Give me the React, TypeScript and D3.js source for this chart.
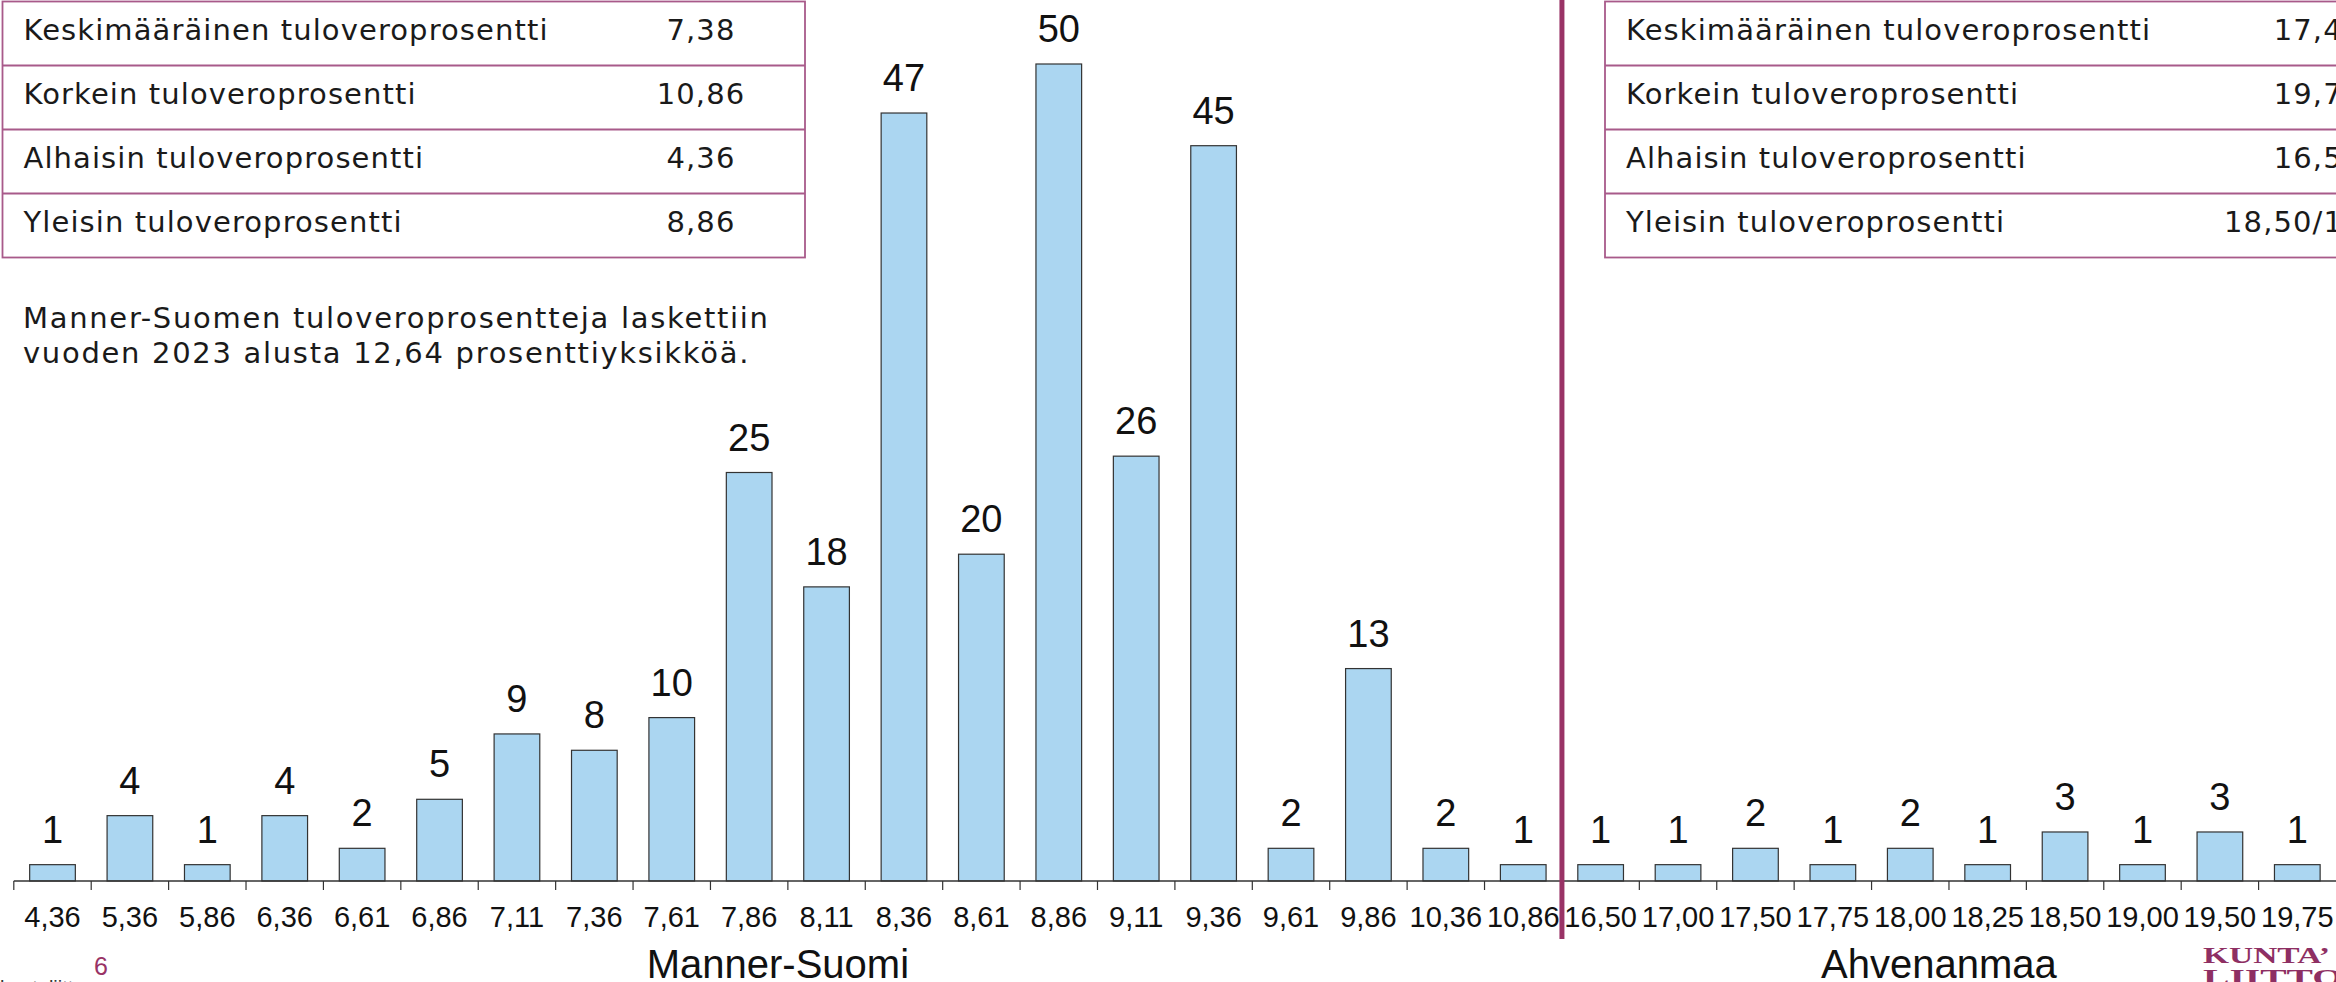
import * as React from 'react';
import * as d3 from 'd3';

// Manner-Suomi: tuloveroprosentti ja kuntien lukumäärä
const mannerRates = ['4,36', '5,36', '5,86', '6,36', '6,61', '6,86', '7,11', '7,36', '7,61', '7,86',
	'8,11', '8,36', '8,61', '8,86', '9,11', '9,36', '9,61', '9,86', '10,36', '10,86'];
const mannerCounts = [1, 4, 1, 4, 2, 5, 9, 8, 10, 25, 18, 47, 20, 50, 26, 45, 2, 13, 2, 1];

// Ahvenanmaa
const ahvenRates = ['16,50', '17,00', '17,50', '17,75', '18,00', '18,25', '18,50', '19,00', '19,50', '19,75'];
const ahvenCounts = [1, 1, 2, 1, 2, 1, 3, 1, 3, 1];

const groupNames = ['Manner-Suomi', 'Ahvenanmaa'];

const statLabels = [
	'Keskimääräinen tuloveroprosentti',
	'Korkein tuloveroprosentti',
	'Alhaisin tuloveroprosentti',
	'Yleisin tuloveroprosentti'
];
const mannerStats = ['7,38', '10,86', '4,36', '8,86'];
const ahvenStats = ['17,46', '19,75', '16,50', '18,50/19,50'];

const noteLines = [
	'Manner-Suomen tuloveroprosentteja laskettiin',
	'vuoden 2023 alusta 12,64 prosenttiyksikköä.'
];

const W = 2336;
const H = 982;
const MAGENTA = '#993366';
const BORDER = '#a85a8a';
const BAR_FILL = '#abd6f1';
const ARIAL = '"Liberation Sans", Arial, sans-serif';
const TABLE_FONT = '"DejaVu Sans", sans-serif';

export default function App() {
	const ref = React.useRef<SVGSVGElement>(null);

	React.useEffect(() => {
		const svg = d3.select(ref.current);
		svg.selectAll('*').remove();

		const rows = [
			...mannerRates.map((r, i) => ({ key: 'm' + i, rate: r, count: mannerCounts[i] })),
			...ahvenRates.map((r, i) => ({ key: 'a' + i, rate: r, count: ahvenCounts[i] }))
		];

		const baseY = 881;
		const x = d3.scaleBand().domain(rows.map((d) => d.key)).range([13.8, W]).padding(0);
		const y = d3.scaleLinear().domain([0, 50]).range([baseY, 64]);
		const barW = x.bandwidth() * 0.59;

		// stat tables
		const drawTable = (left: number, right: number, values: string[], valueX: number) => {
			const rowY = d3.scaleBand().domain(d3.range(statLabels.length).map(String)).range([1.5, 257.5]);
			const t = svg.append('g')
				.attr('font-family', TABLE_FONT)
				.attr('font-size', 29)
				.attr('letter-spacing', 1.1)
				.attr('fill', '#1a1a1a');
			t.append('rect')
				.attr('x', left)
				.attr('y', 1.5)
				.attr('width', right - left)
				.attr('height', 256)
				.attr('fill', 'none')
				.attr('stroke', BORDER)
				.attr('stroke-width', 1.8);
			statLabels.forEach((lab, i) => {
				const top = rowY(String(i)) as number;
				if (i > 0) {
					t.append('line')
						.attr('x1', left)
						.attr('x2', right)
						.attr('y1', top)
						.attr('y2', top)
						.attr('stroke', BORDER)
						.attr('stroke-width', 1.8);
				}
				t.append('text')
					.attr('x', left + 21)
					.attr('y', top + 38.5)
					.text(lab);
				t.append('text')
					.attr('x', valueX)
					.attr('y', top + 38.5)
					.attr('text-anchor', 'middle')
					.text(values[i]);
			});
		};
		drawTable(2.5, 805, mannerStats, 701);
		drawTable(1605, 2440, ahvenStats, 2318);

		// note text
		svg.append('g')
			.selectAll('text')
			.data(noteLines)
			.join('text')
			.attr('x', 23)
			.attr('y', (d, i) => 328 + i * 35)
			.attr('font-family', TABLE_FONT)
			.attr('font-size', 29)
			.attr('letter-spacing', 1.7)
			.attr('fill', '#1a1a1a')
			.text((d) => d);

		// bars
		svg.append('g')
			.selectAll('rect')
			.data(rows)
			.join('rect')
			.attr('x', (d) => (x(d.key) as number) + (x.bandwidth() - barW) / 2)
			.attr('y', (d) => y(d.count))
			.attr('width', barW)
			.attr('height', (d) => baseY - y(d.count))
			.attr('fill', BAR_FILL)
			.attr('stroke', '#333')
			.attr('stroke-width', 1.2);

		// value labels
		svg.append('g')
			.selectAll('text')
			.data(rows)
			.join('text')
			.attr('x', (d) => (x(d.key) as number) + x.bandwidth() / 2)
			.attr('y', (d) => y(d.count) - 22)
			.attr('text-anchor', 'middle')
			.attr('font-family', ARIAL)
			.attr('font-size', 38)
			.attr('fill', '#111')
			.text((d) => d.count);

		// axis
		const ax = svg.append('g');
		ax.append('line')
			.attr('x1', 13.8)
			.attr('x2', W)
			.attr('y1', baseY)
			.attr('y2', baseY)
			.attr('stroke', '#333')
			.attr('stroke-width', 1.5);
		ax.selectAll('line.tick')
			.data(rows)
			.join('line')
			.attr('class', 'tick')
			.attr('x1', (d) => x(d.key) as number)
			.attr('x2', (d) => x(d.key) as number)
			.attr('y1', baseY)
			.attr('y2', baseY + 9)
			.attr('stroke', '#333')
			.attr('stroke-width', 1.2);
		ax.selectAll('text')
			.data(rows)
			.join('text')
			.attr('x', (d) => (x(d.key) as number) + x.bandwidth() / 2)
			.attr('y', 927)
			.attr('text-anchor', 'middle')
			.attr('font-family', ARIAL)
			.attr('font-size', 29)
			.attr('fill', '#111')
			.text((d) => d.rate);

		// group separator
		const sepX = x('a0') as number;
		svg.append('line')
			.attr('x1', sepX)
			.attr('x2', sepX)
			.attr('y1', 0)
			.attr('y2', 939)
			.attr('stroke', MAGENTA)
			.attr('stroke-width', 5);

		// group labels
		const groupCenters = [(13.8 + sepX) / 2, (sepX + W) / 2];
		svg.append('g')
			.selectAll('text')
			.data(groupNames)
			.join('text')
			.attr('x', (d, i) => groupCenters[i] - 10)
			.attr('y', 978)
			.attr('text-anchor', 'middle')
			.attr('font-family', ARIAL)
			.attr('font-size', 40)
			.attr('fill', '#111')
			.text((d) => d);

		// footer: page number, source and logo
		svg.append('text')
			.attr('x', 101)
			.attr('y', 975)
			.attr('text-anchor', 'middle')
			.attr('font-family', ARIAL)
			.attr('font-size', 25)
			.attr('fill', MAGENTA)
			.text('6');
		svg.append('text')
			.attr('x', 0)
			.attr('y', 995)
			.attr('font-family', ARIAL)
			.attr('font-size', 20)
			.attr('fill', '#333')
			.text('kuntaliitto');
		const logo = svg.append('g').attr('font-family', '"Liberation Serif", serif').attr('font-weight', 'bold').attr('fill', '#8e2f63');
		logo.append('text')
			.attr('x', 2203)
			.attr('y', 963)
			.attr('font-size', 24)
			.attr('textLength', 127)
			.attr('lengthAdjust', 'spacingAndGlyphs')
			.text('KUNTA’');
		logo.append('text')
			.attr('x', 2203)
			.attr('y', 985)
			.attr('font-size', 24)
			.attr('textLength', 140)
			.attr('lengthAdjust', 'spacingAndGlyphs')
			.text('LIITTO');
	}, []);

	return (
		<svg
			ref={ref}
			width={W}
			height={H}
			viewBox={`0 0 ${W} ${H}`}
			style={{ position: 'absolute', left: 0, top: 0, background: '#fff', display: 'block' }}
		/>
	);
}
